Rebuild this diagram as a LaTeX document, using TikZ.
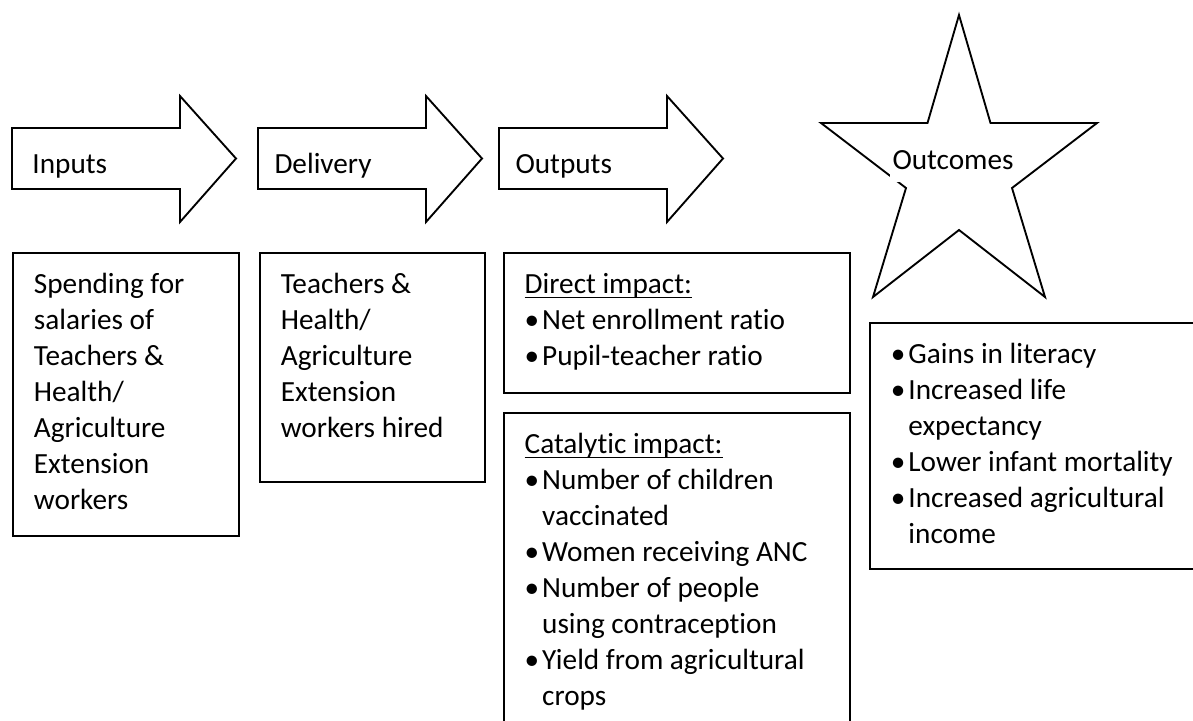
\documentclass[tikz,border=0pt]{standalone}
\usepackage{fontspec}
\setmainfont{Carlito}[Ligatures=NoCommon]
\usepackage{tikz}
\usetikzlibrary{positioning}
\newcommand{\bulit}{\makebox[7pt][l]{\textbullet}}
\newcommand{\contd}{\hspace*{7pt}}
\tikzset{
  outline/.style={draw=black, line width=0.75pt},
  infobox/.style={outline, rectangle, anchor=north west, align=flush left,
                  inner xsep=8.4pt, inner ysep=0pt, text height=16.4pt},
  stagelbl/.style={anchor=base west, inner sep=0pt},
}

\begin{document}
\begin{tikzpicture}[x=0.4pt, y=-0.4pt, font=\fontsize{11.7pt}{14.4pt}\selectfont]
    \useasboundingbox (0,0) rectangle (1193,720);
    % stage arrows
    \foreach \x/\nm/\lbl/\dx in {12/inputs/Inputs/20, 258/delivery/Delivery/16, 499/outputs/Outputs/16} {
      \draw[outline] (\x,128) -- (\x+168,128) -- (\x+168,96) -- (\x+224,158.5)
        -- (\x+168,222) -- (\x+168,189) -- (\x,189) -- cycle;
      \node[stagelbl] (\nm) at (\x+\dx,173) {\lbl};
    }
    % star for the outcomes
    \draw[outline] (959,15) -- (990.5,123) -- (1097,123) -- (1012,188) -- (1045,297)
      -- (959,230) -- (873,297) -- (906,188) -- (821,123) -- (927.5,123) -- cycle;
    \node[fill=white, inner xsep=1.2pt, inner ysep=0pt, text height=12pt, text depth=5pt,
      anchor=base west] (outcomes) at (889,169) {Outcomes};
    % boxes under the stages
    \node[infobox, text width=73.6pt, text depth=96.8pt] (spend) at (12,252)
      {Spending for\\salaries of\\Teachers \&\\Health/\\Agriculture\\Extension\\workers};
    \node[infobox, right=7.6pt of spend.north east, anchor=north west,
      text width=73.2pt, text depth=75.2pt] (hired)
      {Teachers \&\\Health/\\Agriculture\\Extension\\workers hired};
    \node[infobox, right=6.8pt of hired.north east, anchor=north west,
      text width=121.6pt, text depth=39.6pt] (direct)
      {\underline{\smash{Direct impact:}}\\
       \bulit Net enrollment ratio\\
       \bulit Pupil-teacher ratio};
    \node[infobox, below=7.2pt of direct.south west, anchor=north west,
      text width=121.6pt, text depth=115.2pt] (catalytic)
      {\underline{\smash{Catalytic impact:}}\\
       \bulit Number of children\\\contd vaccinated\\
       \bulit Women receiving ANC\\
       \bulit Number of people\\\contd using contraception\\
       \bulit Yield from agricultural\\\contd crops};
    \node[infobox, text width=115.6pt, text depth=82pt] (gains) at (869,322)
      {\bulit Gains in literacy\\
       \bulit Increased life\\\contd expectancy\\
       \bulit Lower infant mortality\\
       \bulit Increased agricultural\\\contd income};
  \end{tikzpicture}
\end{document}
